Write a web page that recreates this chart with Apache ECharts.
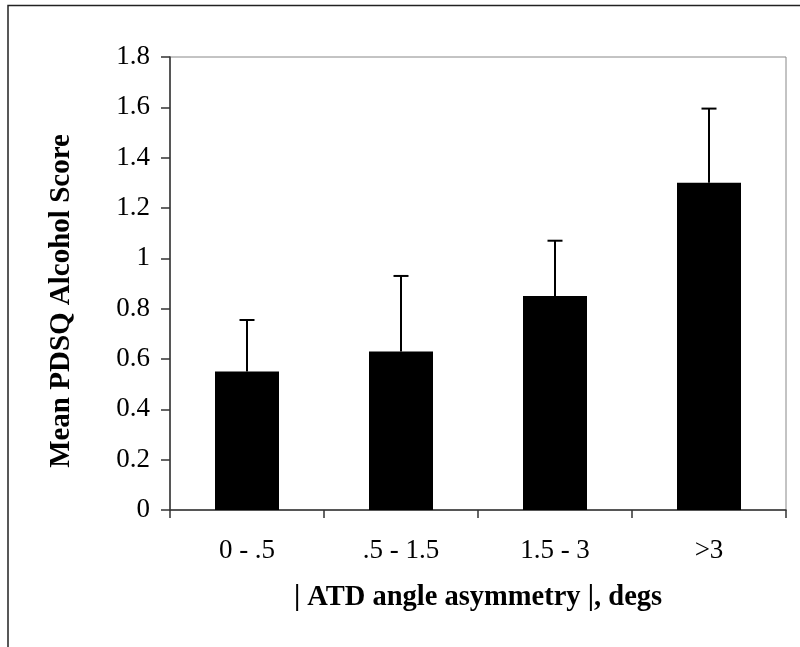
<!DOCTYPE html>
<html>
<head>
<meta charset="utf-8">
<script src="https://cdn.jsdelivr.net/npm/echarts@6/dist/echarts.min.js"></script>
<style>html,body{margin:0;padding:0;background:#fff;}#c{width:800px;height:647px;}</style>
</head>
<body>
<div id="c"></div>
<script>
const categories = ['0 - .5', '.5 - 1.5', '1.5 - 3', '>3'];
const means = [0.55, 0.63, 0.85, 1.30];
const upper = [0.755, 0.93, 1.07, 1.595];
const yTicks = [0, 0.2, 0.4, 0.6, 0.8, 1, 1.2, 1.4, 1.6, 1.8];
const yTitle = 'Mean PDSQ Alcohol Score';
const xTitle = '| ATD angle asymmetry |, degs';

const chart = echarts.init(document.getElementById('c'), null, {renderer: 'canvas'});
const font = '"Liberation Serif", "Times New Roman", serif';
chart.setOption({
  animation: false,
  backgroundColor: '#fff',
  grid: {left: 170, top: 57, right: 14, bottom: 137, show: true, borderColor: '#888', borderWidth: 1, backgroundColor: 'transparent'},
  graphic: [{
    type: 'polyline', shape: {points: [[8, 660], [8, 5.5], [810, 5.5]]},
    style: {stroke: '#222', lineWidth: 1.5, fill: null}, z: 100
  }, {
    type: 'text', x: 62, y: 301, rotation: Math.PI / 2,
    style: {text: yTitle, fill: '#000', font: 'bold 29px ' + font, textAlign: 'center', textVerticalAlign: 'middle'}
  }],
  xAxis: {
    type: 'category', data: categories,
    axisLine: {lineStyle: {color: '#333', width: 1.5}},
    axisTick: {show: true, length: 8, alignWithLabel: false, lineStyle: {color: '#333', width: 1.5}},
    axisLabel: {color: '#000', fontFamily: font, fontSize: 27, margin: 27},
    name: xTitle, nameLocation: 'middle', nameGap: 73,
    nameTextStyle: {color: '#000', fontFamily: font, fontSize: 28.5, fontWeight: 'bold'}
  },
  yAxis: {
    type: 'value', min: 0, max: 1.8, interval: 0.2,
    axisLine: {show: true, lineStyle: {color: '#333', width: 1.5}},
    axisTick: {show: true, length: 9, lineStyle: {color: '#333', width: 1.5}},
    splitLine: {show: false},
    axisLabel: {color: '#000', fontFamily: font, fontSize: 27, margin: 20,
      formatter: v => { const t = yTicks.find(x => Math.abs(x - v) < 1e-6); return t === undefined ? '' : String(t); }}
  },
  series: [{
    type: 'bar', data: means, barWidth: 64,
    itemStyle: {color: '#000'}
  }, {
    type: 'custom', data: upper.map((u, i) => [i, means[i], u]),
    renderItem: function (params, api) {
      const base = api.coord([api.value(0), api.value(1)]);
      const top = api.coord([api.value(0), api.value(2)]);
      const hw = 7.5;
      return {type: 'group', children: [
        {type: 'line', shape: {x1: base[0], y1: base[1], x2: top[0], y2: top[1]}, style: {stroke: '#000', lineWidth: 2}},
        {type: 'line', shape: {x1: top[0] - hw, y1: top[1], x2: top[0] + hw, y2: top[1]}, style: {stroke: '#000', lineWidth: 2}}
      ]};
    },
    z: 3
  }]
});
</script>
</body>
</html>
